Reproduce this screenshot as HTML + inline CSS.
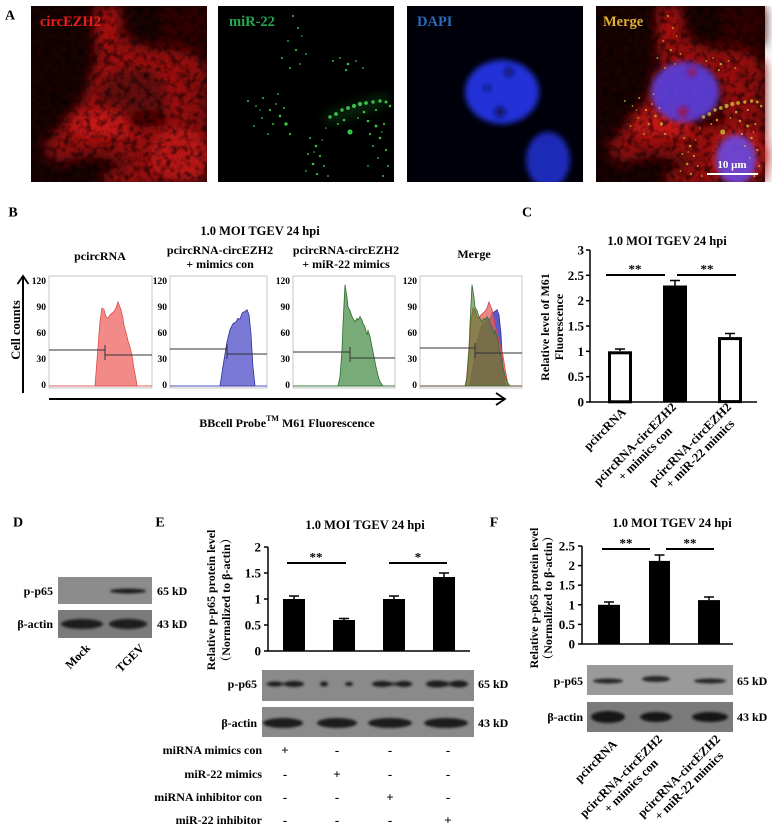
<!DOCTYPE html>
<html><head><meta charset="utf-8">
<style>
html,body{margin:0;padding:0;background:#fff;}
svg{display:block;}
text{font-family:"Liberation Serif","Noto Serif CJK SC",serif;font-weight:bold;fill:#000;}
</style></head><body>
<svg width="773" height="834" viewBox="0 0 773 834" xmlns="http://www.w3.org/2000/svg" xmlns:xlink="http://www.w3.org/1999/xlink">
<defs>
 <filter id="b6" x="-30%" y="-30%" width="160%" height="160%"><feGaussianBlur stdDeviation="6"/></filter>
 <filter id="b3" x="-30%" y="-30%" width="160%" height="160%"><feGaussianBlur stdDeviation="3"/></filter>
 <filter id="b1" x="-30%" y="-100%" width="160%" height="300%"><feGaussianBlur stdDeviation="1.2"/></filter>
 <filter id="nz" x="0" y="0" width="100%" height="100%"><feTurbulence type="fractalNoise" baseFrequency="0.15" numOctaves="2" seed="7"/><feColorMatrix type="matrix" values="0 0 0 0 0  0 0 0 0 0  0 0 0 0 0  3 0 0 0 -1.3"/></filter>
 <clipPath id="ic"><rect x="0" y="0" width="176" height="176"/></clipPath>
 <g id="red">
  <rect width="176" height="176" fill="#180202"/>
  <g filter="url(#b6)">
   <polygon points="62,0 90,0 94,30 120,42 160,46 176,58 176,176 110,176 92,156 60,150 25,158 10,142 36,112 56,88 64,55" fill="#8a0a0a"/>
   <rect x="130" y="0" width="46" height="40" fill="#300404"/>
   <ellipse cx="102" cy="92" rx="42" ry="38" fill="#640808" stroke="#b01212" stroke-width="8"/>
   <ellipse cx="68" cy="118" rx="32" ry="14" fill="#c41616"/>
   <ellipse cx="150" cy="150" rx="30" ry="28" fill="#b81414"/>
   <ellipse cx="76" cy="20" rx="10" ry="22" fill="#a81010"/>
   <ellipse cx="140" cy="56" rx="30" ry="10" fill="#9a0e0e"/>
   <ellipse cx="118" cy="114" rx="22" ry="10" fill="#4a0505"/>
   <ellipse cx="100" cy="172" rx="30" ry="10" fill="#9a0e0e"/>
  </g>
  <rect width="176" height="176" filter="url(#nz)" opacity="0.55"/>
 </g>
 <g id="dots">
  <circle cx="75" cy="10" r="1"/><circle cx="80" cy="22" r="1"/><circle cx="70" cy="35" r="0.9"/><circle cx="78" cy="44" r="1.1"/><circle cx="64" cy="52" r="1"/><circle cx="82" cy="58" r="0.9"/><circle cx="72" cy="62" r="1"/><circle cx="88" cy="48" r="0.9"/>
  <circle cx="115" cy="55" r="1"/><circle cx="122" cy="52" r="0.9"/><circle cx="130" cy="58" r="1.3"/><circle cx="138" cy="55" r="0.9"/><circle cx="128" cy="64" r="1.1"/><circle cx="145" cy="62" r="0.9"/>
  <circle cx="30" cy="95" r="1"/><circle cx="38" cy="100" r="0.9"/><circle cx="45" cy="92" r="1"/><circle cx="52" cy="104" r="1.1"/><circle cx="58" cy="98" r="0.9"/><circle cx="62" cy="110" r="1.3"/><circle cx="68" cy="118" r="1.7"/><circle cx="55" cy="118" r="1"/><circle cx="44" cy="112" r="0.9"/><circle cx="36" cy="120" r="0.9"/><circle cx="72" cy="128" r="1.1"/><circle cx="50" cy="128" r="0.9"/><circle cx="60" cy="88" r="0.9"/><circle cx="66" cy="102" r="1"/>
  <circle cx="112" cy="111" r="1.7"/><circle cx="118" cy="108" r="1.9"/><circle cx="124" cy="104" r="1.7"/><circle cx="130" cy="102" r="1.9"/><circle cx="136" cy="100" r="2.1"/><circle cx="142" cy="98" r="2.1"/><circle cx="148" cy="97" r="1.9"/><circle cx="155" cy="96" r="1.7"/><circle cx="162" cy="95" r="1.7"/><circle cx="168" cy="96" r="1.5"/><circle cx="172" cy="100" r="1.3"/><circle cx="126" cy="114" r="1.3"/><circle cx="146" cy="106" r="1.3"/><circle cx="158" cy="104" r="1.1"/><circle cx="120" cy="118" r="1"/>
  <circle cx="132" cy="126" r="2.6"/>
  <circle cx="92" cy="132" r="1"/><circle cx="98" cy="140" r="1.3"/><circle cx="90" cy="148" r="1"/><circle cx="102" cy="150" r="1.1"/><circle cx="95" cy="158" r="1.3"/><circle cx="106" cy="160" r="1"/><circle cx="99" cy="168" r="1.1"/><circle cx="110" cy="170" r="0.9"/><circle cx="88" cy="165" r="0.9"/>
  <circle cx="150" cy="115" r="1.3"/><circle cx="158" cy="120" r="1.5"/><circle cx="166" cy="118" r="1.1"/><circle cx="152" cy="128" r="1.1"/><circle cx="162" cy="132" r="1.3"/><circle cx="155" cy="140" r="1"/><circle cx="168" cy="144" r="1.1"/><circle cx="160" cy="152" r="0.9"/><circle cx="170" cy="160" r="1"/><circle cx="150" cy="160" r="0.9"/><circle cx="165" cy="170" r="1"/>
  <circle cx="84" cy="30" r="0.8"/><circle cx="42" cy="104" r="0.8"/><circle cx="108" cy="122" r="0.8"/><circle cx="140" cy="112" r="0.9"/><circle cx="96" cy="146" r="0.8"/><circle cx="164" cy="126" r="0.8"/><circle cx="104" cy="134" r="0.8"/>
 </g>
 <path id="hR" d="M95,386 L97,360 L100,321 L102,308 L104,309.7 L106,316.6 L108,318.4 L110,314.9 L112,313.2 L114,311.4 L116,308 L118,301.9 L119,304.5 L121,309.7 L123,318.4 L124,325.3 L126,332.2 L128,340.9 L130,347 L132,355.7 L134,368.7 L136,379.1 L137,386 Z"/>
 <path id="hB" d="M220,386 L223,366.1 L227,341.8 L230,329.6 L233,323.6 L236,321.8 L238,318.4 L240,319.2 L242,313.2 L245,311.4 L247,309.7 L249,314.9 L251,334 L252,351.3 L253,366.9 L255,386 Z"/>
 <path id="hG" d="M338,386 L340,376.5 L342,349.6 L343,323.6 L345,284.6 L347,297.6 L348,307.1 L350,310.6 L352,316.6 L353,318.4 L355,321.8 L357,318.4 L358,320.1 L360,316.6 L362,320.1 L363,323.6 L365,327 L367,334.8 L368,330.5 L370,336.6 L372,347 L374,356.5 L376,366.9 L378,375.6 L380,381.7 L383,386 Z"/>
</defs>
<rect width="773" height="834" fill="#fff"/>

<!-- ===== Panel A ===== -->
<text x="10" y="16" font-size="14" dominant-baseline="central" text-anchor="middle">A</text>
<g transform="translate(31,6)" clip-path="url(#ic)">
 <use xlink:href="#red"/>
</g>
<text x="40" y="22" font-size="14.5" dominant-baseline="central" style="fill:#e8201c">circEZH2</text>
<g transform="translate(218,6)" clip-path="url(#ic)">
 <rect width="176" height="176" fill="#000"/>
 <g filter="url(#b6)" opacity="0.3">
  <path d="M108,114 L170,92" stroke="#20a030" stroke-width="10"/>
 </g>
 <use xlink:href="#dots" fill="#36c048"/>
</g>
<text x="229" y="22" font-size="14.5" dominant-baseline="central" style="fill:#22a850">miR-22</text>
<g transform="translate(407,6)" clip-path="url(#ic)">
 <rect width="176" height="176" fill="#00000a"/>
 <g filter="url(#b3)">
  <ellipse cx="95" cy="86" rx="37" ry="32" fill="#2030d8"/>
  <ellipse cx="141" cy="154" rx="22" ry="28" fill="#1c2ab8"/>
 </g>
 <g filter="url(#b3)" fill="#08104a">
  <circle cx="102" cy="66" r="4"/><circle cx="93" cy="106" r="5"/><circle cx="80" cy="82" r="3"/>
 </g>
</g>
<text x="417" y="22" font-size="14.5" dominant-baseline="central" style="fill:#2a6ab8">DAPI</text>
<g transform="translate(596,6)" clip-path="url(#ic)">
 <g transform="scale(0.96,1)"><use xlink:href="#red"/></g>
 <g filter="url(#b3)" opacity="0.9">
  <ellipse cx="89" cy="86" rx="34" ry="30" fill="#5a40e0"/>
  <ellipse cx="140" cy="154" rx="20" ry="25" fill="#6a48e0"/>
 </g>
 <g filter="url(#b3)" fill="#a01040">
  <circle cx="96" cy="66" r="4"/><circle cx="87" cy="106" r="5"/><circle cx="60" cy="60" r="5" fill="#200010"/>
 </g>
 <g transform="scale(0.96,1)" opacity="0.8"><use xlink:href="#dots" fill="#c8c038"/></g>
</g>
<text x="603" y="22" font-size="14.5" dominant-baseline="central" style="fill:#e0b030">Merge</text>
<line x1="707" y1="174" x2="758" y2="174" stroke="#fff" stroke-width="2"/>
<text x="732" y="165" font-size="11" text-anchor="middle" dominant-baseline="central" style="fill:#fff">10 μm</text>

<!-- ===== Panel B ===== -->
<text x="13" y="213" font-size="14" dominant-baseline="central" text-anchor="middle">B</text>
<text x="260" y="231" font-size="12.5" dominant-baseline="central" text-anchor="middle">1.0 MOI TGEV 24 hpi</text>
<text x="100" y="256" font-size="12" dominant-baseline="central" text-anchor="middle">pcircRNA</text>
<text x="220" y="250" font-size="12" dominant-baseline="central" text-anchor="middle">pcircRNA-circEZH2</text>
<text x="220" y="264" font-size="12" dominant-baseline="central" text-anchor="middle">+ mimics con</text>
<text x="346" y="250" font-size="12" dominant-baseline="central" text-anchor="middle">pcircRNA-circEZH2</text>
<text x="346" y="264" font-size="12" dominant-baseline="central" text-anchor="middle">+ miR-22 mimics</text>
<text x="474" y="254" font-size="12" dominant-baseline="central" text-anchor="middle">Merge</text>

<line x1="23" y1="393" x2="23" y2="277" stroke="#000" stroke-width="2"/>
<polyline points="17.5,284 23,276 28.5,284" fill="none" stroke="#000" stroke-width="1.8"/>
<text transform="translate(16,330) rotate(-90)" font-size="12.5" text-anchor="middle" dominant-baseline="central">Cell  counts</text>

<g font-size="9.5" text-anchor="end">
 <rect x="49" y="276" width="103" height="112" fill="#fff" stroke="#c4c4c4" stroke-width="1"/>
 <rect x="170" y="276" width="97" height="112" fill="#fff" stroke="#c4c4c4" stroke-width="1"/>
 <rect x="293" y="276" width="102" height="112" fill="#fff" stroke="#c4c4c4" stroke-width="1"/>
 <rect x="420" y="276" width="102" height="112" fill="#fff" stroke="#c4c4c4" stroke-width="1"/>
 <g dominant-baseline="central">
  <text x="46" y="282">120</text><text x="46" y="308">90</text><text x="46" y="334">60</text><text x="46" y="360">30</text><text x="46" y="386">0</text>
  <text x="167" y="282">120</text><text x="167" y="308">90</text><text x="167" y="334">60</text><text x="167" y="360">30</text><text x="167" y="386">0</text>
  <text x="290" y="282">120</text><text x="290" y="308">90</text><text x="290" y="334">60</text><text x="290" y="360">30</text><text x="290" y="386">0</text>
  <text x="417" y="282">120</text><text x="417" y="308">90</text><text x="417" y="334">60</text><text x="417" y="360">30</text><text x="417" y="386">0</text>
 </g>
</g>
<line x1="49" y1="386" x2="152" y2="386" stroke="#e06060" stroke-width="1"/>
<use xlink:href="#hR" fill="#f28a8a" stroke="#e04a4a" stroke-width="0.8"/>
<line x1="170" y1="386" x2="267" y2="386" stroke="#5050c0" stroke-width="1"/>
<use xlink:href="#hB" fill="#7a7ad6" stroke="#3030a0" stroke-width="0.8"/>
<line x1="293" y1="386" x2="395" y2="386" stroke="#3a7a3a" stroke-width="1"/>
<use xlink:href="#hG" fill="#78ab78" stroke="#2e6e2e" stroke-width="0.8"/>
<line x1="420" y1="386" x2="522" y2="386" stroke="#604030" stroke-width="1"/>
<g transform="translate(250,0)"><use xlink:href="#hB" fill="#5a5ac8" stroke="#3030a0" stroke-width="0.8"/></g>
<g transform="translate(371,0)"><use xlink:href="#hR" fill="#e06060" fill-opacity="0.75" stroke="#e04040" stroke-width="0.8"/></g>
<g transform="translate(127,0)"><use xlink:href="#hG" fill="#4a7a2a" fill-opacity="0.6" stroke="#2e6e2e" stroke-width="0.8"/></g>
<g stroke="#333" stroke-width="1" fill="none">
 <path d="M49,350 H105 M105,345 V360 M105,355 H152"/>
 <path d="M170,349 H227 M227,344 V359 M227,354 H267"/>
 <path d="M293,352 H350 M350,347 V362 M350,358 H395"/>
 <path d="M420,348 H475 M475,343 V358 M475,353 H522"/>
</g>
<line x1="49" y1="399" x2="505" y2="399" stroke="#000" stroke-width="2"/>
<polyline points="496,393 505,399 496,405" fill="none" stroke="#000" stroke-width="1.8"/>
<text x="287" y="423" font-size="12" text-anchor="middle" dominant-baseline="central">BBcell Probe<tspan font-size="8" dy="-5">TM</tspan><tspan dy="5"> M61 Fluorescence</tspan></text>

<!-- ===== Panel C ===== -->
<text x="527" y="213" font-size="14" dominant-baseline="central" text-anchor="middle">C</text>
<text x="667" y="241" font-size="12.5" dominant-baseline="central" text-anchor="middle">1.0 MOI TGEV 24 hpi</text>
<text transform="translate(545,327) rotate(-90)" font-size="12" text-anchor="middle" dominant-baseline="central">Relative level of  M61</text>
<text transform="translate(559,327) rotate(-90)" font-size="12" text-anchor="middle" dominant-baseline="central">Fluorescence</text>
<g stroke="#000" stroke-width="1.5">
 <line x1="590" y1="250" x2="590" y2="402"/>
 <line x1="589" y1="402" x2="757" y2="402"/>
 <line x1="586" y1="250" x2="590" y2="250"/><line x1="586" y1="275.3" x2="590" y2="275.3"/><line x1="586" y1="300.7" x2="590" y2="300.7"/><line x1="586" y1="326" x2="590" y2="326"/><line x1="586" y1="351.3" x2="590" y2="351.3"/><line x1="586" y1="376.7" x2="590" y2="376.7"/><line x1="586" y1="402" x2="590" y2="402"/>
</g>
<g font-size="13" text-anchor="end" dominant-baseline="central">
 <text x="584" y="250">3</text><text x="584" y="275.3">2.5</text><text x="584" y="300.7">2</text><text x="584" y="326">1.5</text><text x="584" y="351.3">1</text><text x="584" y="376.7">0.5</text><text x="584" y="402">0</text>
</g>
<rect x="609.5" y="352.8" width="21" height="49" fill="#fff" stroke="#000" stroke-width="3"/>
<rect x="663" y="285.5" width="24" height="116.5" fill="#000"/>
<rect x="719.5" y="338.6" width="21" height="63" fill="#fff" stroke="#000" stroke-width="3"/>
<g stroke="#000" stroke-width="1.5">
 <path d="M620,351 V349 M615,349 H625"/>
 <path d="M675,286 V280.5 M670,280.5 H680"/>
 <path d="M730,337 V333.5 M725,333.5 H735"/>
</g>
<g stroke="#000" stroke-width="2"><line x1="606" y1="275" x2="665" y2="275"/><line x1="677" y1="275" x2="736" y2="275"/></g>
<text x="635" y="269" font-size="13" text-anchor="middle" dominant-baseline="central">**</text>
<text x="707" y="269" font-size="13" text-anchor="middle" dominant-baseline="central">**</text>
<g font-size="12.5">
 <g transform="translate(624,410) rotate(-45)"><text x="0" y="4" text-anchor="end">pcircRNA</text></g>
 <g transform="translate(679,410) rotate(-45)"><text x="0" y="-3" text-anchor="end">pcircRNA-circEZH2</text><text x="-55" y="11" text-anchor="middle">+ mimics con</text></g>
 <g transform="translate(734,410) rotate(-45)"><text x="0" y="-3" text-anchor="end">pcircRNA-circEZH2</text><text x="-55" y="11" text-anchor="middle">+ miR-22 mimics</text></g>
</g>

<!-- ===== Panel D ===== -->
<text x="18" y="523" font-size="14" dominant-baseline="central" text-anchor="middle">D</text>
<rect x="58" y="577" width="94" height="27" fill="#8c8c8c"/>
<rect x="58" y="610" width="94" height="28" fill="#7a7a7a"/>
<g filter="url(#b1)" fill="#1e1e1e">
 <ellipse cx="128" cy="591" rx="18" ry="2.5"/>
 <ellipse cx="82" cy="624" rx="21" ry="5"/>
 <ellipse cx="128" cy="624" rx="19" ry="5"/>
</g>
<g font-size="12" dominant-baseline="central">
 <text x="53" y="591" text-anchor="end">p-p65</text>
 <text x="53" y="624" text-anchor="end">β-actin</text>
 <text x="157" y="591">65 kD</text>
 <text x="157" y="624">43 kD</text>
</g>
<g font-size="12">
 <g transform="translate(88,646) rotate(-45)"><text x="0" y="4" text-anchor="end">Mock</text></g>
 <g transform="translate(142,646) rotate(-45)"><text x="0" y="4" text-anchor="end">TGEV</text></g>
</g>

<!-- ===== Panel E ===== -->
<text x="160" y="523" font-size="14" dominant-baseline="central" text-anchor="middle">E</text>
<text x="365" y="525" font-size="12.5" dominant-baseline="central" text-anchor="middle">1.0 MOI TGEV 24 hpi</text>
<text transform="translate(211,600) rotate(-90)" font-size="12" text-anchor="middle" dominant-baseline="central">Relative p-p65 protein level</text>
<text transform="translate(226,600) rotate(-90)" font-size="12" text-anchor="middle" dominant-baseline="central">（Normalized  to β-actin）</text>
<g stroke="#000" stroke-width="1.5">
 <line x1="268" y1="547" x2="268" y2="651"/>
 <line x1="267" y1="651" x2="470" y2="651"/>
 <line x1="264" y1="547" x2="268" y2="547"/><line x1="264" y1="573" x2="268" y2="573"/><line x1="264" y1="599" x2="268" y2="599"/><line x1="264" y1="625" x2="268" y2="625"/><line x1="264" y1="651" x2="268" y2="651"/>
</g>
<g font-size="13" text-anchor="end" dominant-baseline="central">
 <text x="261" y="547">2</text><text x="261" y="573">1.5</text><text x="261" y="599">1</text><text x="261" y="625">0.5</text><text x="261" y="651">0</text>
</g>
<g fill="#000">
 <rect x="283" y="599" width="22" height="52"/>
 <rect x="333" y="620" width="22" height="31"/>
 <rect x="383" y="599" width="22" height="52"/>
 <rect x="433" y="577" width="22" height="74"/>
</g>
<g stroke="#000" stroke-width="1.5">
 <path d="M294,599 V596 M289,596 H299"/>
 <path d="M344,620 V618.5 M339,618.5 H349"/>
 <path d="M394,599 V596 M389,596 H399"/>
 <path d="M444,577 V573 M439,573 H449"/>
</g>
<g stroke="#000" stroke-width="2"><line x1="287" y1="563" x2="346" y2="563"/><line x1="389" y1="563" x2="447" y2="563"/></g>
<text x="316" y="557" font-size="13" text-anchor="middle" dominant-baseline="central">**</text>
<text x="418" y="557" font-size="13" text-anchor="middle" dominant-baseline="central">*</text>
<rect x="262" y="670" width="212" height="31" fill="#8a8a8a"/>
<rect x="262" y="707" width="212" height="30" fill="#8a8a8a"/>
<g filter="url(#b1)" fill="#1e1e1e">
 <ellipse cx="283" cy="684" rx="18" ry="1.5" fill="#404040"/>
 <ellipse cx="275" cy="684" rx="8" ry="2.5"/><ellipse cx="294" cy="684" rx="10" ry="3"/>
 <ellipse cx="324" cy="684" rx="4" ry="2.5"/><ellipse cx="349" cy="684" rx="4" ry="2"/>
 <ellipse cx="393" cy="684" rx="20" ry="2" fill="#404040"/>
 <ellipse cx="382" cy="684" rx="10" ry="3"/><ellipse cx="404" cy="684" rx="8" ry="3"/>
 <ellipse cx="447" cy="684" rx="21" ry="2.5" fill="#404040"/>
 <ellipse cx="437" cy="684" rx="11" ry="3.5"/><ellipse cx="459" cy="684" rx="9" ry="3.5"/>
 <ellipse cx="283" cy="723" rx="20" ry="5"/><ellipse cx="337" cy="723" rx="20" ry="5"/>
 <ellipse cx="390" cy="723" rx="22" ry="5"/><ellipse cx="446" cy="723" rx="22" ry="5"/>
</g>
<g font-size="12" dominant-baseline="central">
 <text x="257" y="684" text-anchor="end">p-p65</text>
 <text x="257" y="723" text-anchor="end">β-actin</text>
 <text x="478" y="684">65 kD</text>
 <text x="478" y="723">43 kD</text>
</g>
<g font-size="12" dominant-baseline="central" text-anchor="end">
 <text x="262" y="750">miRNA mimics con</text>
 <text x="262" y="774">miR-22 mimics</text>
 <text x="262" y="797">miRNA inhibitor con</text>
 <text x="262" y="820">miR-22 inhibitor</text>
</g>
<g font-size="13" dominant-baseline="central" text-anchor="middle">
 <text x="285" y="750">+</text><text x="337" y="750">-</text><text x="390" y="750">-</text><text x="448" y="750">-</text>
 <text x="285" y="774">-</text><text x="337" y="774">+</text><text x="390" y="774">-</text><text x="448" y="774">-</text>
 <text x="285" y="797">-</text><text x="337" y="797">-</text><text x="390" y="797">+</text><text x="448" y="797">-</text>
 <text x="285" y="820">-</text><text x="337" y="820">-</text><text x="390" y="820">-</text><text x="448" y="820">+</text>
</g>

<!-- ===== Panel F ===== -->
<text x="494" y="523" font-size="14" dominant-baseline="central" text-anchor="middle">F</text>
<text x="672" y="523" font-size="12.5" dominant-baseline="central" text-anchor="middle">1.0 MOI TGEV 24 hpi</text>
<text transform="translate(534,598) rotate(-90)" font-size="12" text-anchor="middle" dominant-baseline="central">Relative p-p65 protein level</text>
<text transform="translate(548,598) rotate(-90)" font-size="12" text-anchor="middle" dominant-baseline="central">（Normalized  to β-actin）</text>
<g stroke="#000" stroke-width="1.5">
 <line x1="582" y1="546" x2="582" y2="644"/>
 <line x1="581" y1="644" x2="733" y2="644"/>
 <line x1="578" y1="546" x2="582" y2="546"/><line x1="578" y1="565.6" x2="582" y2="565.6"/><line x1="578" y1="585.2" x2="582" y2="585.2"/><line x1="578" y1="604.8" x2="582" y2="604.8"/><line x1="578" y1="624.4" x2="582" y2="624.4"/><line x1="578" y1="644" x2="582" y2="644"/>
</g>
<g font-size="13" text-anchor="end" dominant-baseline="central">
 <text x="575" y="546">2.5</text><text x="575" y="565.6">2</text><text x="575" y="585.2">1.5</text><text x="575" y="604.8">1</text><text x="575" y="624.4">0.5</text><text x="575" y="644">0</text>
</g>
<g fill="#000">
 <rect x="598" y="604.8" width="22" height="39.2"/>
 <rect x="649" y="560.9" width="21" height="83.1"/>
 <rect x="698" y="600.1" width="22" height="43.9"/>
</g>
<g stroke="#000" stroke-width="1.5">
 <path d="M609,605 V602 M604,602 H614"/>
 <path d="M659.5,561 V555 M654.5,555 H664.5"/>
 <path d="M709,600 V597 M704,597 H714"/>
</g>
<g stroke="#000" stroke-width="2"><line x1="602" y1="549" x2="650" y2="549"/><line x1="666" y1="549" x2="714" y2="549"/></g>
<text x="626" y="543" font-size="13" text-anchor="middle" dominant-baseline="central">**</text>
<text x="690" y="543" font-size="13" text-anchor="middle" dominant-baseline="central">**</text>
<rect x="587" y="665" width="146" height="30" fill="#9a9a9a"/>
<rect x="587" y="702" width="146" height="30" fill="#7a7a7a"/>
<g filter="url(#b1)" fill="#262626">
 <ellipse cx="608" cy="681" rx="15" ry="2.5"/>
 <ellipse cx="656" cy="679" rx="14" ry="3"/>
 <ellipse cx="710" cy="681" rx="16" ry="2.5"/>
 <ellipse cx="608" cy="717" rx="17" ry="6" fill="#151515"/>
 <ellipse cx="656" cy="717" rx="16" ry="5" fill="#151515"/>
 <ellipse cx="710" cy="717" rx="18" ry="5" fill="#151515"/>
</g>
<g font-size="12" dominant-baseline="central">
 <text x="583" y="681" text-anchor="end">p-p65</text>
 <text x="583" y="717" text-anchor="end">β-actin</text>
 <text x="737" y="681">65 kD</text>
 <text x="737" y="717">43 kD</text>
</g>
<g font-size="12.5">
 <g transform="translate(615,742) rotate(-45)"><text x="0" y="4" text-anchor="end">pcircRNA</text></g>
 <g transform="translate(665,742) rotate(-45)"><text x="0" y="-3" text-anchor="end">pcircRNA-circEZH2</text><text x="-55" y="11" text-anchor="middle">+ mimics con</text></g>
 <g transform="translate(723,742) rotate(-45)"><text x="0" y="-3" text-anchor="end">pcircRNA-circEZH2</text><text x="-55" y="11" text-anchor="middle">+ miR-22 mimics</text></g>
</g>
</svg>
</body></html>
